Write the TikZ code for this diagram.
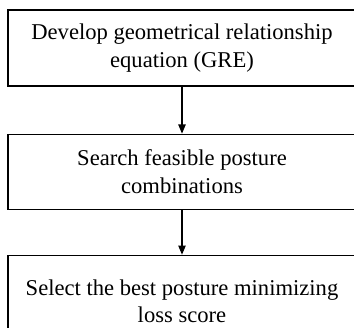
\documentclass[tikz,border=0pt]{standalone}
\usepackage{fontspec}
\setmainfont{Liberation Serif}
\usepackage{tikz}
\usetikzlibrary{shapes,arrows,positioning}

\tikzset{stepbox/.style={draw, line width=1.1pt, minimum width=348pt, minimum height=76pt, align=center, inner sep=0pt, font=\fontsize{22.6}{27.5}\selectfont}}

\begin{document}
\begin{tikzpicture}[x=1pt, y=1pt]
\useasboundingbox (0,0) rectangle (354,-328);
\begin{scope}
\clip (0,0) rectangle (354,-328);

\node(gre)[stepbox] at (182,-48){Develop geometrical relationship\\equation (GRE)};
\node(search)[stepbox, below =47pt of gre, minimum height=75pt]{Search feasible posture\\combinations};
\node(select)[stepbox, below =45pt of search, minimum height=92pt]{Select the best posture minimizing\\loss score};

\draw[line width=1.1pt, -triangle 45](gre)--(search);
\draw[line width=1.1pt, -triangle 45](search)--(select);

\end{scope}
\end{tikzpicture}
\end{document}
